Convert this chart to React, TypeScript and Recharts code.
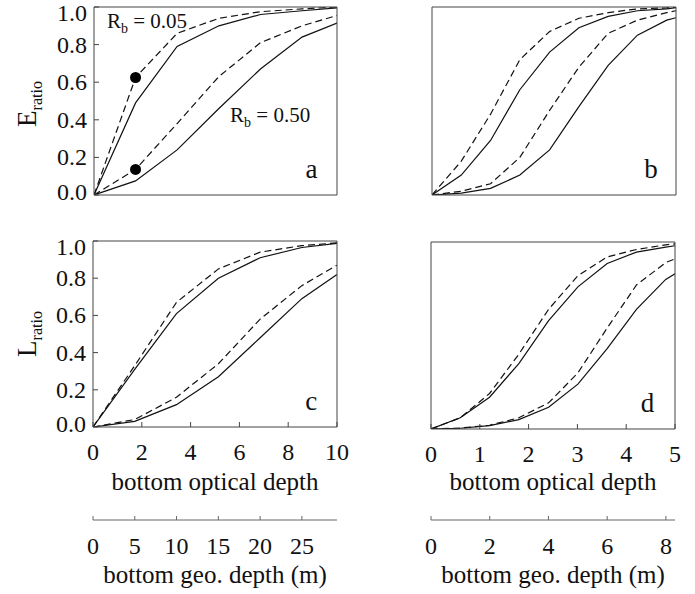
import { ComposedChart, Line, XAxis, YAxis, ReferenceDot } from "recharts";

const FONT = '"Liberation Serif", "Times New Roman", serif';
const INK = "#111";
const FRAME = "#444";

// optical depth of the sample points
const X_LEFT = [0, 1.71, 3.42, 5.14, 6.85, 8.56, 10];
const X_RIGHT = [0, 0.6, 1.2, 1.8, 2.41, 3.01, 3.61, 4.21, 4.81, 5];
// matching geometric depth (m)
const GEO_LEFT = [0, 5, 10, 15, 20, 25, 29.2];
const GEO_RIGHT = [0, 1, 2, 3, 4, 5, 6, 7, 8, 8.31];

// panel a  (E ratio, left column)
const A_SOLID_05 = [0, 0.49, 0.79, 0.9, 0.96, 0.98, 0.995];
const A_DASH_05 = [0, 0.625, 0.86, 0.94, 0.975, 0.99, 1.0];
const A_SOLID_50 = [0, 0.075, 0.24, 0.46, 0.67, 0.84, 0.915];
const A_DASH_50 = [0, 0.136, 0.38, 0.63, 0.81, 0.9, 0.955];
const A_DOTS = [
  { x: 1.71, y: 0.625 },
  { x: 1.71, y: 0.136 },
];

// panel b
const B_SOLID_05 = [0, 0.106, 0.29, 0.56, 0.76, 0.89, 0.95, 0.98, 0.99, 0.996];
const B_DASH_05 = [0, 0.18, 0.43, 0.72, 0.87, 0.94, 0.97, 0.99, 0.995, 1.0];
const B_SOLID_50 = [0, 0.01, 0.035, 0.106, 0.24, 0.47, 0.69, 0.85, 0.93, 0.943];
const B_DASH_50 = [0, 0.02, 0.06, 0.2, 0.45, 0.68, 0.86, 0.93, 0.97, 0.98];

// panel c (L ratio)
const C_SOLID_05 = [0, 0.31, 0.61, 0.8, 0.91, 0.965, 0.987];
const C_DASH_05 = [0, 0.33, 0.67, 0.85, 0.94, 0.975, 0.99];
const C_SOLID_50 = [0, 0.03, 0.12, 0.27, 0.48, 0.69, 0.82];
const C_DASH_50 = [0, 0.04, 0.16, 0.34, 0.58, 0.76, 0.87];

// panel d
const D_SOLID_05 = [0, 0.06, 0.17, 0.35, 0.58, 0.76, 0.885, 0.946, 0.973, 0.98];
const D_DASH_05 = [0, 0.06, 0.19, 0.4, 0.64, 0.82, 0.92, 0.96, 0.985, 0.99];
const D_SOLID_50 = [0, 0.004, 0.018, 0.05, 0.116, 0.24, 0.43, 0.64, 0.8, 0.83];
const D_DASH_50 = [0, 0.005, 0.02, 0.06, 0.14, 0.3, 0.54, 0.77, 0.89, 0.91];

const Y_TICKS = [0, 0.2, 0.4, 0.6, 0.8, 1.0];
const X_TICKS_LEFT = [0, 2, 4, 6, 8, 10];
const X_TICKS_RIGHT = [0, 1, 2, 3, 4, 5];
const X_TICKS_B = [
  0, 0.2, 0.4, 0.6, 0.8, 1, 1.2, 1.4, 1.6, 1.8, 2, 2.2, 2.4, 2.6, 2.8, 3, 3.2,
  3.4, 3.6, 3.8, 4, 4.2, 4.4, 4.6, 4.8, 5,
];
const GEO_TICKS_LEFT = [0, 5, 10, 15, 20, 25];
const GEO_TICKS_RIGHT = [0, 2, 4, 6, 8];

const rows = (xs: number[], geo: number[], s05: number[], d05: number[], s50: number[], d50: number[]) =>
  xs.map((x, i) => ({ x, geo: geo[i], s05: s05[i], d05: d05[i], s50: s50[i], d50: d50[i] }));

const YTick = (props: any) => {
  const { x, y, payload } = props;
  const v = payload.value;
  const dy = v === 1 ? 6 : v === 0 ? -3 : 0;
  return (
    <text x={x} y={y + dy} textAnchor="end" dominantBaseline="central" fontFamily={FONT} fontSize={24} fill={INK}>
      {v.toFixed(1)}
    </text>
  );
};

// rotated axis title with subscript, laid over the chart
const RatioTitle = ({ letter, cx, cy }: { letter: string; cx: number; cy: number }) => (
  <div
    style={{
      position: "absolute",
      left: cx,
      top: cy,
      transform: "translate(-50%, -50%) rotate(-90deg)",
      fontFamily: FONT,
      color: INK,
      whiteSpace: "nowrap",
      lineHeight: 1,
    }}
  >
    <span style={{ fontSize: 27 }}>{letter}</span>
    <span style={{ fontSize: 16, position: "relative", top: 6 }}>ratio</span>
  </div>
);

const textAt = (content: any) => (p: any) => (
  <text x={p.cx} y={p.cy} fontFamily={FONT} fill={INK}>
    {content}
  </text>
);

const Rb = (val: string) => (
  <>
    <tspan fontSize={21}>R</tspan>
    <tspan fontSize={14} dy={5}>b</tspan>
    <tspan fontSize={21} dy={-5}>{" = " + val}</tspan>
  </>
);

interface PanelProps {
  left: number;
  top: number;
  width: number;
  height: number;
  marginTop: number;
  marginRight: number;
  yWidth: number;
  xHeight: number;
  data: any[];
  xMax: number;
  xTicks: number[];
  xTickLabels?: boolean;
  yTickLabels?: boolean;
  letter: string;
  letterX: number;
  geo?: { max: number; ticks: number[] };
  dots?: { x: number; y: number }[];
  notes?: { x: number; y: number; content: any }[];
}

const Panel = (p: PanelProps) => {
  const axisTick = { fontFamily: FONT, fontSize: 24, fill: INK };
  return (
    <div style={{ position: "absolute", left: p.left, top: p.top }}>
      <ComposedChart
        width={p.width}
        height={p.height}
        data={p.data}
        margin={{ top: p.marginTop, right: p.marginRight, left: 0, bottom: 0 }}
      >
        <XAxis
          xAxisId="a_opt"
          dataKey="x"
          type="number"
          domain={[0, p.xMax]}
          ticks={p.xTicks}
          interval={0}
          allowDataOverflow
          height={p.xHeight}
          tickSize={-5}
          tickMargin={21}
          tick={p.xTickLabels ? axisTick : false}
          stroke={FRAME}
          tickLine={{ stroke: FRAME }}
          label={
            p.geo
              ? { value: "bottom optical depth", position: "insideBottom", offset: 30, fontFamily: FONT, fontSize: 25, fill: INK }
              : undefined
          }
        />
        {p.geo && (
          <XAxis
            xAxisId="z_geo"
            dataKey="geo"
            type="number"
            domain={[0, p.geo.max]}
            ticks={p.geo.ticks}
            interval={0}
            allowDataOverflow
            height={70}
            tickSize={-4}
            tickMargin={21}
            tick={axisTick}
            stroke="#666"
            tickLine={{ stroke: "#666" }}
            label={{ value: "bottom geo. depth (m)", position: "insideBottom", offset: 7, fontFamily: FONT, fontSize: 25, fill: INK }}
          />
        )}
        <XAxis
          xAxisId="top"
          dataKey="x"
          orientation="top"
          type="number"
          domain={[0, p.xMax]}
          ticks={p.xTicks}
          interval={0}
          allowDataOverflow
          height={1}
          tickSize={-5}
          tick={false}
          stroke={FRAME}
          tickLine={{ stroke: FRAME }}
        />
        <YAxis
          yAxisId="main"
          type="number"
          domain={[0, 1]}
          ticks={Y_TICKS}
          interval={0}
          allowDataOverflow
          width={p.yWidth}
          tickSize={-5}
          tickMargin={12}
          tick={p.yTickLabels ? <YTick /> : false}
          stroke={FRAME}
          tickLine={{ stroke: FRAME }}
        />
        <YAxis
          yAxisId="right"
          orientation="right"
          type="number"
          domain={[0, 1]}
          ticks={Y_TICKS}
          interval={0}
          allowDataOverflow
          width={1}
          tickSize={-5}
          tick={false}
          stroke={FRAME}
          tickLine={{ stroke: FRAME }}
        />
        <Line xAxisId="a_opt" yAxisId="main" type="linear" dataKey="s05" stroke={INK} strokeWidth={1.2} dot={false} isAnimationActive={false} />
        <Line xAxisId="a_opt" yAxisId="main" type="linear" dataKey="d05" stroke={INK} strokeWidth={1.2} strokeDasharray="7 4" dot={false} isAnimationActive={false} />
        <Line xAxisId="a_opt" yAxisId="main" type="linear" dataKey="s50" stroke={INK} strokeWidth={1.2} dot={false} isAnimationActive={false} />
        <Line xAxisId="a_opt" yAxisId="main" type="linear" dataKey="d50" stroke={INK} strokeWidth={1.2} strokeDasharray="7 4" dot={false} isAnimationActive={false} />
        {(p.dots || []).map((d, i) => (
          <ReferenceDot key={`dot-${i}`} xAxisId="a_opt" yAxisId="main" x={d.x} y={d.y} r={5.5} fill="#000" stroke="none" />
        ))}
        {(p.notes || []).map((n, i) => (
          <ReferenceDot key={`note-${i}`} xAxisId="a_opt" yAxisId="main" x={n.x} y={n.y} r={0} shape={textAt(n.content)} />
        ))}
        <ReferenceDot
          xAxisId="a_opt"
          yAxisId="main"
          x={p.letterX}
          y={0.09}
          r={0}
          shape={textAt(<tspan fontSize={27}>{p.letter}</tspan>)}
        />
      </ComposedChart>
    </div>
  );
};

const App = () => {
  return (
    <div style={{ position: "absolute", left: 0, top: 0, width: 695, height: 594, background: "#fff" }}>
      <Panel
        left={0}
        top={0}
        width={360}
        height={212}
        marginTop={6}
        marginRight={22}
        yWidth={94}
        xHeight={17}
        data={rows(X_LEFT, GEO_LEFT, A_SOLID_05, A_DASH_05, A_SOLID_50, A_DASH_50)}
        xMax={10}
        xTicks={X_TICKS_LEFT}
        yTickLabels
        letter="a"
        letterX={8.7}
        dots={A_DOTS}
        notes={[
          { x: 0.53, y: 0.888, content: Rb("0.05") },
          { x: 5.6, y: 0.388, content: Rb("0.50") },
        ]}
      />
      <Panel
        left={340}
        top={0}
        width={355}
        height={212}
        marginTop={6}
        marginRight={18}
        yWidth={92}
        xHeight={17}
        data={rows(X_RIGHT, GEO_RIGHT, B_SOLID_05, B_DASH_05, B_SOLID_50, B_DASH_50)}
        xMax={5}
        xTicks={X_TICKS_B}
        letter="b"
        letterX={4.35}
      />
      <Panel
        left={0}
        top={234}
        width={360}
        height={356}
        marginTop={6}
        marginRight={22}
        yWidth={93}
        xHeight={93}
        data={rows(X_LEFT, GEO_LEFT, C_SOLID_05, C_DASH_05, C_SOLID_50, C_DASH_50)}
        xMax={10}
        xTicks={X_TICKS_LEFT}
        xTickLabels
        yTickLabels
        letter="c"
        letterX={8.7}
        geo={{ max: GEO_LEFT[GEO_LEFT.length - 1], ticks: GEO_TICKS_LEFT }}
      />
      <Panel
        left={340}
        top={235}
        width={355}
        height={355}
        marginTop={6}
        marginRight={19}
        yWidth={91}
        xHeight={91}
        data={rows(X_RIGHT, GEO_RIGHT, D_SOLID_05, D_DASH_05, D_SOLID_50, D_DASH_50)}
        xMax={5}
        xTicks={X_TICKS_RIGHT}
        xTickLabels
        letter="d"
        letterX={4.3}
        geo={{ max: GEO_RIGHT[GEO_RIGHT.length - 1], ticks: GEO_TICKS_RIGHT }}
      />
      <RatioTitle letter="E" cx={27} cy={104} />
      <RatioTitle letter="L" cx={27} cy={334} />
    </div>
  );
};

export default App;
